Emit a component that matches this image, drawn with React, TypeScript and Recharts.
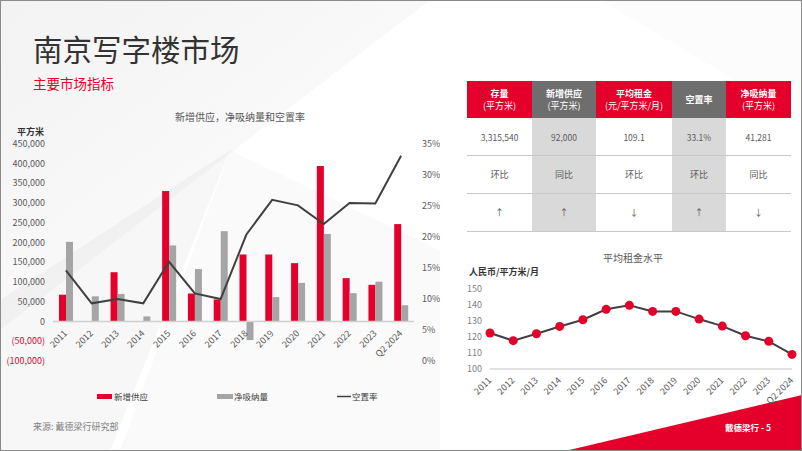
import {
  ComposedChart,
  LineChart,
  Bar,
  Line,
  XAxis,
  YAxis,
  ReferenceLine,
} from 'recharts';

const RED = '#e4002b';
const GRAY = '#a5a5a5';
const DARK = '#404040';
const FONT = '"Noto Sans CJK SC", "Noto Sans", sans-serif';

// main chart data
const years = ['2011', '2012', '2013', '2014', '2015', '2016', '2017', '2018', '2019', '2020', '2021', '2022', '2023', 'Q2 2024'];
const newSupply = [68000, 0, 125000, 0, 331000, 71000, 56000, 170000, 170000, 148000, 394000, 110000, 93000, 247000];
const netAbsorption = [202000, 64000, 70000, 13000, 193000, 133000, 229000, -47000, 62000, 98000, 222000, 72000, 101000, 41281];
const vacancy = [0.146, 0.093, 0.1, 0.093, 0.16, 0.109, 0.1, 0.204, 0.26, 0.251, 0.221, 0.255, 0.254, 0.331];
const supplyTicks = [-100000, -50000, 0, 50000, 100000, 150000, 200000, 250000, 300000, 350000, 400000, 450000];
const vacancyTicks = [0, 0.05, 0.1, 0.15, 0.2, 0.25, 0.3, 0.35];

// rent chart data
const rent = [122.5, 117.7, 122, 126.6, 130.8, 137.3, 139.8, 136, 136, 131.2, 126.8, 120.8, 117.3, 109.1];
const rentTicks = [100, 110, 120, 130, 140, 150];

// table
const tableHeaders = [['存量', '(平方米)'], ['新增供应', '(平方米)'], ['平均租金', '(元/平方米/月)'], ['空置率'], ['净吸纳量', '(平方米)']];
const tableValues = ['3,315,540', '92,000', '109.1', '33.1%', '41,281'];
const tableCompare = ['环比', '同比', '环比', '环比', '同比'];
const tableTrend = ['↑', '↑', '↓', '↑', '↓'];
const tableColWidths = [65, 64, 76, 54, 65];
const tableHeaderColors = [RED, '#6e6e6e', RED, '#6e6e6e', RED];

const mainData = years.map((y, i) => ({
  year: y,
  supply: newSupply[i],
  absorb: netAbsorption[i],
  vacancy: vacancy[i],
}));

const rentData = years.map((y, i) => ({ year: y, rent: rent[i] }));

function SupplyTick({ x, y, payload }: any) {
  const v = payload.value as number;
  const label = v < 0 ? `(${Math.abs(v).toLocaleString('en-US')})` : v.toLocaleString('en-US');
  return (
    <text x={x} y={y} dy={3} textAnchor="end" fontSize={9} fill={v < 0 ? RED : '#595959'}>
      {label}
    </text>
  );
}

// x labels sit under the zero line, not under the plot bottom
function YearTick({ x, y, payload }: any) {
  return (
    <text
      x={x + 2}
      y={y - 35}
      textAnchor="end"
      fontSize={9}
      fill="#595959"
      transform={`rotate(-45, ${x + 2}, ${y - 35})`}
    >
      {payload.value}
    </text>
  );
}

function RentYearTick({ x, y, payload }: any) {
  return (
    <text
      x={x + 2}
      y={y + 4}
      textAnchor="end"
      fontSize={9}
      fill="#595959"
      transform={`rotate(-45, ${x + 2}, ${y + 4})`}
    >
      {payload.value}
    </text>
  );
}

function Table() {
  let left = 467;
  return (
    <div style={{ position: 'absolute', left: 0, top: 0 }}>
      {tableColWidths.map((w, i) => {
        const col = (
          <div key={i} style={{ position: 'absolute', left, top: 81, width: w }}>
            <div
              style={{
                height: 37,
                background: tableHeaderColors[i],
                color: '#fff',
                fontSize: 9,
                lineHeight: '12px',
                display: 'flex',
                flexDirection: 'column',
                alignItems: 'center',
                justifyContent: 'center',
              }}
            >
              {tableHeaders[i].map((t, j) => (
                <div key={j} style={{ fontWeight: j === 0 ? 700 : 400, whiteSpace: 'nowrap' }}>{t}</div>
              ))}
            </div>
            <div style={{ background: i % 2 === 1 ? '#d9d9d9' : 'transparent' }}>
              {[tableValues[i], tableCompare[i], tableTrend[i]].map((t, j) => (
                <div
                  key={j}
                  style={{
                    height: 37,
                    borderBottom: '1px solid #c8c8c8',
                    display: 'flex',
                    alignItems: 'center',
                    justifyContent: 'center',
                    fontSize: j === 0 ? 8.5 : 9,
                    color: '#595959',
                  }}
                >
                  {t}
                </div>
              ))}
            </div>
          </div>
        );
        left += w;
        return col;
      })}
    </div>
  );
}

export default function App() {
  return (
    <div
      style={{
        position: 'absolute',
        left: 0,
        top: 0,
        width: 802,
        height: 451,
        overflow: 'hidden',
        background: '#ffffff',
        fontFamily: FONT,
        boxSizing: 'border-box',
      }}
    >
      <svg width={802} height={451} style={{ position: 'absolute', left: 0, top: 0 }}>
        <defs>
          <linearGradient id="bgA" x1="0" y1="0" x2="1" y2="1">
            <stop offset="0" stopColor="#e6e6e6" />
            <stop offset="1" stopColor="#ffffff" />
          </linearGradient>
        </defs>
        <polygon points="0,0 430,0 0,330" fill="url(#bgA)" opacity={0.5} />
        <polygon points="230,150 440,250 440,451 120,451" fill="#000" opacity={0.02} />
        <polygon points="230,150 110,451 0,451 0,300" fill="#000" opacity={0.03} />
        <polygon points="600,0 802,0 802,120" fill="#000" opacity={0.012} />
        <polygon points="565,451 802,395 802,451" fill={RED} />
        <text x={33} y={61} fontSize={29.5} fill="#333">南京写字楼市场</text>
        <text x={33} y={89} fontSize={13.5} fill={RED}>主要市场指标</text>
        <text x={240} y={120.5} fontSize={10} fill="#595959" textAnchor="middle">新增供应，净吸纳量和空置率</text>
        <text x={17} y={134.5} fontSize={9} fill="#333" fontWeight={700}>平方米</text>
        <text x={633} y={261.5} fontSize={10} fill="#595959" textAnchor="middle">平均租金水平</text>
        <text x={469} y={275} fontSize={9} fill="#333" fontWeight={700}>人民币/平方米/月</text>
        <text x={33} y={430} fontSize={9} fill="#7f7f7f">来源: 戴德梁行研究部</text>
        <text x={725} y={431} fontSize={8.5} fill="#fff" fontWeight={700}>戴德梁行 - 5</text>
        {/* legend */}
        <rect x={97} y={394} width={15} height={5} fill={RED} />
        <text x={114} y={399.5} fontSize={8.5} fill="#404040">新增供应</text>
        <rect x={217} y={394} width={16} height={5} fill={GRAY} />
        <text x={234} y={399.5} fontSize={8.5} fill="#404040">净吸纳量</text>
        <line x1={337} y1={396.5} x2={351} y2={396.5} stroke={DARK} strokeWidth={1.5} />
        <text x={352} y={399.5} fontSize={8.5} fill="#404040">空置率</text>
      </svg>

      <div style={{ position: 'absolute', left: 0, top: 130 }}>
        <ComposedChart width={440} height={240} data={mainData} margin={{ top: 14, right: 0, left: 0, bottom: 8 }} barGap={0}>
          <XAxis dataKey="year" height={1} axisLine={false} tickLine={false} interval={0} tick={<YearTick />} />
          <YAxis
            yAxisId="left"
            width={53}
            domain={[-100000, 450000]}
            ticks={supplyTicks}
            interval={0}
            axisLine={false}
            tickLine={false}
            tick={<SupplyTick />}
          />
          <YAxis
            yAxisId="right"
            orientation="right"
            width={26}
            domain={[0, 0.35]}
            ticks={vacancyTicks}
            interval={0}
            tickFormatter={(v) => `${Math.round(v * 100)}%`}
            axisLine={false}
            tickLine={false}
            tick={{ fontSize: 9, fill: '#595959' }}
          />
          <ReferenceLine yAxisId="left" y={0} stroke="#d0d0d0" strokeWidth={1.5} />
          <Bar yAxisId="left" dataKey="supply" fill={RED} barSize={7} isAnimationActive={false} />
          <Bar yAxisId="left" dataKey="absorb" fill={GRAY} barSize={7} isAnimationActive={false} />
          <Line yAxisId="right" type="linear" dataKey="vacancy" stroke={DARK} strokeWidth={2} dot={false} isAnimationActive={false} />
        </ComposedChart>
      </div>

      <Table />

      <div style={{ position: 'absolute', left: 460, top: 280 }}>
        <LineChart width={342} height={129} data={rentData} margin={{ top: 9, right: 10, left: 0, bottom: 0 }}>
          <XAxis
            dataKey="year"
            height={40}
            interval={0}
            axisLine={{ stroke: '#d9d9d9', strokeWidth: 1.5 }}
            tickLine={false}
            tick={<RentYearTick />}
          />
          <YAxis
            width={30}
            domain={[100, 150]}
            ticks={rentTicks}
            interval={0}
            axisLine={false}
            tickLine={false}
            tick={{ fontSize: 9, fill: '#7f7f7f' }}
          />
          <Line
            type="linear"
            dataKey="rent"
            stroke={DARK}
            strokeWidth={2}
            dot={{ r: 4.5, fill: RED, stroke: RED, strokeWidth: 0 }}
            isAnimationActive={false}
          />
        </LineChart>
      </div>

      <div style={{ position: 'absolute', left: 0, top: 0, width: 802, height: 451, boxSizing: 'border-box', border: '1px solid #8a8a8a', pointerEvents: 'none' }} />
    </div>
  );
}
